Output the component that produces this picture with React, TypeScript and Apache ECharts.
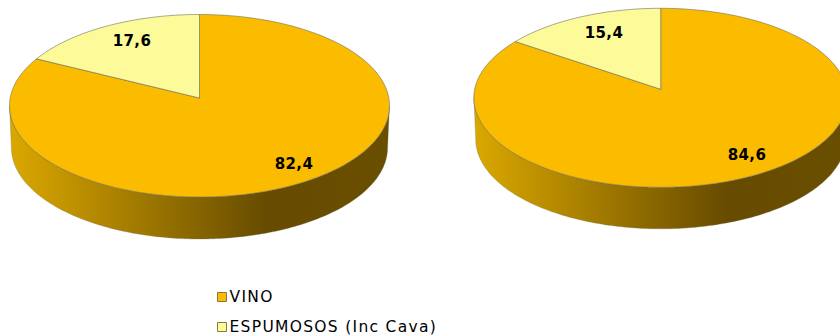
import React, { useEffect, useRef } from "react";
import * as echarts from "echarts";

const seriesNames = ["VINO", "ESPUMOSOS (Inc Cava)"];
const vinoValues = [82.4, 84.6];
const espumososValues = [17.6, 15.4];

const GOLD = "#FBBC00";
const CREAM = "#FDFB99";
const EDGE = "rgba(110,110,90,0.6)";
const LABEL_FONT = "bold 15px 'DejaVu Sans'";

// Perspective of each pie's top face, and where its labels sit.
const pies = [
  { cx: 199.5, cy: 98, a: 189.3, b: 90.6, k: 0.0849, depth: 42, vino: [294, 164], esp: [132, 41] },
  { cx: 660.7, cy: 89.3, a: 186, b: 88.7, k: 0.095, depth: 41.5, vino: [747, 155], esp: [604, 33] },
];

type Pie = (typeof pies)[number];

function project(p: Pie, deg: number, scaleX = 1, dy = 0): number[] {
  const t = (deg * Math.PI) / 180;
  const X = Math.sin(t);
  const Y = Math.cos(t);
  const w = 1 + p.k * Y;
  return [p.cx + (scaleX * p.a * X) / w, p.cy + dy - (p.b * Y) / w];
}

function arcPoints(p: Pie, from: number, to: number, scaleX = 1, dy = 0): number[][] {
  const pts: number[][] = [];
  const n = Math.max(2, Math.ceil(Math.abs(to - from)));
  for (let i = 0; i <= n; i++) pts.push(project(p, from + ((to - from) * i) / n, scaleX, dy));
  return pts;
}

const wallGradient = new echarts.graphic.LinearGradient(0, 0, 1, 0, [
  { offset: 0, color: "#DBA800" },
  { offset: 0.68, color: "#664B00" },
  { offset: 1, color: "#6B4F00" },
]);

function renderVino(params: any, api: any) {
  const p = pies[params.dataIndex];
  const sweep = (360 * api.value(0)) / 100;
  const wall = [...arcPoints(p, 95, 265), ...arcPoints(p, 265, 95, 0.99, p.depth)];
  return {
    type: "group",
    children: [
      { type: "polygon", shape: { points: wall }, style: { fill: wallGradient, stroke: "rgba(110,110,90,0.3)", lineWidth: 1 } },
      { type: "polygon", shape: { points: [[p.cx, p.cy], ...arcPoints(p, 0, sweep)] }, style: { fill: GOLD, stroke: EDGE, lineWidth: 1 } },
      { type: "text", style: { text: String(api.value(0)).replace(".", ","), x: p.vino[0], y: p.vino[1], align: "center", verticalAlign: "middle", font: LABEL_FONT, fill: "#000" } },
    ],
  };
}

function renderEspumosos(params: any, api: any) {
  const p = pies[params.dataIndex];
  const sweep = (360 * api.value(0)) / 100;
  return {
    type: "group",
    children: [
      { type: "polygon", shape: { points: [[p.cx, p.cy], ...arcPoints(p, -sweep, 0)] }, style: { fill: CREAM, stroke: EDGE, lineWidth: 1 } },
      { type: "text", style: { text: String(api.value(0)).replace(".", ","), x: p.esp[0], y: p.esp[1], align: "center", verticalAlign: "middle", font: LABEL_FONT, fill: "#000" } },
    ],
  };
}

export default function App() {
  const ref = useRef<HTMLDivElement>(null);
  useEffect(() => {
    const chart = echarts.init(ref.current!, undefined, { renderer: "svg" });
    chart.setOption({
      animation: false,
      legend: {
        show: true,
        orient: "vertical",
        left: 217,
        top: 288,
        height: 100,
        width: 400,
        itemWidth: 9,
        itemHeight: 9,
        itemGap: 12,
        selectedMode: false,
        icon: "rect",
        padding: 0,
        data: seriesNames,
        textStyle: { fontFamily: "DejaVu Sans", fontSize: 15.5, color: "#000", padding: [0, 0, 0, -2], lineHeight: 18 },
        itemStyle: { borderColor: "#8A7A3A", borderWidth: 1 },
      },
      series: [
        { type: "custom", name: seriesNames[0], coordinateSystem: "none", renderItem: renderVino, itemStyle: { color: GOLD }, data: vinoValues.map((v) => [v]), silent: true },
        { type: "custom", name: seriesNames[1], coordinateSystem: "none", renderItem: renderEspumosos, itemStyle: { color: CREAM }, data: espumososValues.map((v) => [v]), silent: true },
      ],
    });
    // The reference's legend text is tracked wider than the installed font.
    ref.current!.querySelectorAll("text").forEach((t: any) => {
      t.style.letterSpacing = seriesNames.includes(t.textContent) ? "1.3px" : "0.4px";
    });
    return () => chart.dispose();
  }, []);
  return <div ref={ref} style={{ position: "absolute", left: 0, top: 0, width: 840, height: 335, background: "#fff", overflow: "hidden" }} />;
}
